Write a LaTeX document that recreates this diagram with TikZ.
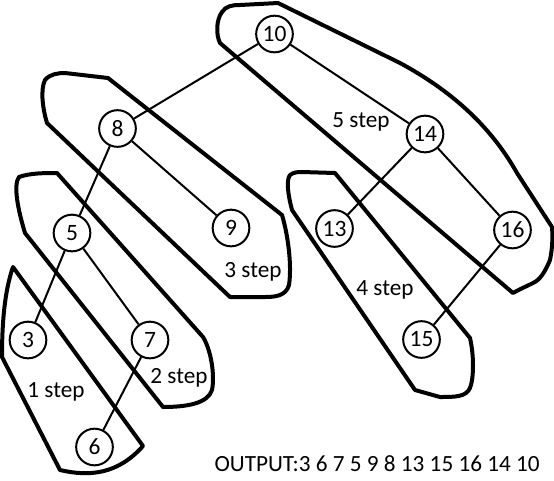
\documentclass[tikz,border=0pt]{standalone}
\usepackage{fontspec}
\setmainfont{Carlito}
\begin{document}
\begin{tikzpicture}[x=0.75pt,y=-0.75pt,
  vert/.style={circle,draw,line width=1.5pt,minimum size=27.5pt,inner sep=0pt,fill=white,font=\fontsize{17.6}{20}\selectfont},
  edge/.style={line width=1.5pt},
  blob/.style={line width=3pt,line join=round,line cap=round},
  lbl/.style={anchor=base,inner sep=0pt,font=\fontsize{17.4}{20}\selectfont}]
\useasboundingbox (0,0) rectangle (554,480);

% step groups
\draw[blob] (13,267) .. controls (5,290) and (2,320) .. (2,357) -- (60,470)
  .. controls (90,477) and (118,474) .. (143,446) -- cycle;
\draw[blob] (25,233) .. controls (18,210) and (13,185) .. (19,177)
  .. controls (30,173) and (45,173) .. (57,173) -- (203,337)
  .. controls (211,350) and (215,375) .. (212,390)
  .. controls (208,403) and (188,407) .. (163,407) -- cycle;
\draw[blob] (47,123) .. controls (43,110) and (40,90) .. (45,80)
  .. controls (50,74) and (58,73) .. (65,73) -- (108,78) -- (282,215)
  .. controls (288,235) and (292,265) .. (289,285)
  .. controls (286,296) and (275,297) .. (265,297) -- (230,297) -- cycle;
\draw[blob] (292,210) .. controls (288,195) and (286,180) .. (290,175)
  .. controls (294,172) and (298,172) .. (302,172) -- (335,173) -- (470,338)
  .. controls (474,355) and (474,378) .. (470,388)
  .. controls (466,397) and (455,397) .. (440,397) -- (415,390) -- cycle;
\draw[blob] (220,43) .. controls (216,35) and (216,20) .. (222,12)
  .. controls (226,6) and (232,5) .. (240,5) -- (278,3) -- (400,63)
  .. controls (450,90) and (490,125) .. (517,173) -- (552,227)
  .. controls (553,240) and (552,250) .. (550,260)
  .. controls (545,272) and (540,280) .. (533,283)
  .. controls (525,287) and (518,290) .. (513,293) -- cycle;

% tree vertices
\node[vert] (n10) at (274.5,34) {10};
\node[vert] (n8) at (117.5,128.5) {8};
\node[vert] (n14) at (425,134) {14};
\node[vert] (n9) at (231,228) {9};
\node[vert] (n13) at (334.5,228.5) {13};
\node[vert] (n16) at (512.5,230) {16};
\node[vert] (n5) at (72,233) {5};
\node[vert] (n3) at (28,340) {3};
\node[vert] (n7) at (150,340) {7};
\node[vert] (n15) at (421.5,339.5) {15};
\node[vert] (n6) at (94.5,447) {6};

% tree edges
\draw[edge] (n10) -- (n8);
\draw[edge] (n10) -- (n14);
\draw[edge] (n8) -- (n5);
\draw[edge] (n8) -- (n9);
\draw[edge] (n5) -- (n3);
\draw[edge] (n5) -- (n7);
\draw[edge] (n7) -- (n6);
\draw[edge] (n14) -- (n13);
\draw[edge] (n14) -- (n16);
\draw[edge] (n16) -- (n15);

% labels
\node[lbl] (s1) at (56,397) {1 step};
\node[lbl] (s2) at (179,383) {2 step};
\node[lbl] (s3) at (253,277) {3 step};
\node[lbl] (s4) at (385,295) {4 step};
\node[lbl] (s5) at (361,127) {5 step};
\node[lbl] (out) at (377,471) {OUTPUT:3 6 7 5 9 8 13 15 16 14 10};
\end{tikzpicture}
\end{document}
